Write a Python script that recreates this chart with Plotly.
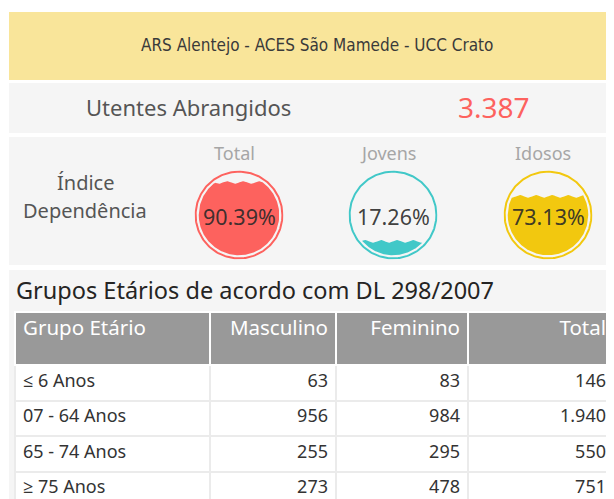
import numpy as np
import plotly.graph_objects as go

# a pagina tem 8px de margem no body, por isso a figura comeca em (8, 8)
OFF = 8
W, H = 614 - OFF, 499 - OFF

TITULO = "ARS Alentejo - ACES São Mamede - UCC Crato"
UTENTES = 3387

# indice de dependencia (%)
INDICES = ["Total", "Jovens", "Idosos"]
VALORES_IND = [90.39, 17.26, 73.13]
CORES_IND = ["#FD625E", "#41C8C8", "#F2C80F"]

# tabela de grupos etarios
GRUPOS = ["≤ 6 Anos", "07 - 64 Anos", "65 - 74 Anos", "≥ 75 Anos"]
MASCULINO = [63, 956, 255, 273]
FEMININO = [83, 984, 295, 478]
TOTAL = [146, 1940, 550, 751]
COLUNAS = ["Grupo Etário", "Masculino", "Feminino", "Total"]

FONTE = "Noto Sans, Open Sans, sans-serif"


def px(x):
    return (x - OFF) / W


def py(y):
    return 1 - (y - OFF) / H


def milhares(n):
    return f"{n:,}".replace(",", ".")


def poligono_agua(frac, raio=0.905, amp=0.03, onda=0.36):
    """Area de 'agua' dentro do circulo ate ao nivel frac (0..1), com ondinha."""
    xs = np.linspace(-raio, raio, 300)
    h = np.sqrt(np.clip(raio ** 2 - xs ** 2, 0, None))
    nivel = -raio + 2 * raio * frac
    topo = np.minimum(nivel + amp * np.sin(2 * np.pi * xs / onda), h)
    ok = topo >= -h
    xs, topo, fundo = xs[ok], topo[ok], -h[ok]
    return (np.concatenate([xs, xs[::-1], xs[:1]]),
            np.concatenate([topo, fundo[::-1], topo[:1]]))


fig = go.Figure()

# paineis de fundo
paineis = [(12, 80, "#F9E59A"), (83, 133, "#F5F5F5"), (137, 265, "#F5F5F5"), (270, 499, "#F5F5F5")]
for y0, y1, cor in paineis:
    fig.add_shape(type="rect", xref="paper", yref="paper", x0=px(9), x1=1,
                  y0=py(y1), y1=py(y0), fillcolor=cor, line_width=0, layer="below")

# gauges tipo "liquid fill"
centros = [239, 393, 548]
cy, r = 215, 44.5
theta = np.linspace(0, 2 * np.pi, 200)
for i, (nome, val, cor, cx) in enumerate(zip(INDICES, VALORES_IND, CORES_IND, centros), start=2):
    xa, ya = f"x{i}", f"y{i}"
    wx, wy = poligono_agua(val / 100)
    fig.add_trace(go.Scatter(x=wx, y=wy, mode="lines", fill="toself", fillcolor=cor,
                             line=dict(width=0, color=cor), xaxis=xa, yaxis=ya,
                             hoverinfo="skip", showlegend=False))
    fig.add_trace(go.Scatter(x=0.975 * np.cos(theta), y=0.975 * np.sin(theta), mode="lines",
                             line=dict(color=cor, width=2), xaxis=xa, yaxis=ya,
                             hoverinfo="skip", showlegend=False))
    eixo = dict(range=[-1, 1], visible=False, fixedrange=True)
    fig.update_layout({
        f"xaxis{i}": dict(eixo, domain=[px(cx - r), px(cx + r)], anchor=ya),
        f"yaxis{i}": dict(eixo, domain=[py(cy + r), py(cy - r)], anchor=xa),
    })
    fig.add_annotation(x=px(cx), y=py(cy + 1), xref="paper", yref="paper", text=f"{val:.2f}%",
                       showarrow=False, xanchor="center", yanchor="middle",
                       font=dict(size=21.5, color="rgba(40,40,40,0.9)", family=FONTE))
    fig.add_annotation(x=px(cx - 5), y=py(153), xref="paper", yref="paper", text=nome,
                       showarrow=False, xanchor="center", yanchor="middle",
                       font=dict(size=18, color="#A6A6A6", family=FONTE))

textos = [
    (317, 45, TITULO, 17, "#3A3A3A", "DejaVu Sans Condensed, Liberation Sans Narrow, sans-serif", "center"),
    (188, 107, "Utentes Abrangidos", 22, "#555555", FONTE, "center"),
    (494, 107, milhares(UTENTES), 28, "#FD625E", FONTE, "center"),
    (85, 182, "Índice", 20, "#555555", FONTE, "center"),
    (85, 210, "Dependência", 20, "#555555", FONTE, "center"),
    (14, 290, "Grupos Etários de acordo com DL 298/2007", 23.5, "#252423", FONTE, "left"),
]
for x, y, t, s, c, f, al in textos:
    fig.add_annotation(x=px(x), y=py(y), xref="paper", yref="paper", text=t, showarrow=False,
                       xanchor=al, yanchor="middle", font=dict(size=s, color=c, family=f))

fig.add_trace(go.Table(
    domain=dict(x=[px(15), 1], y=[0, py(312)]),
    columnwidth=[195, 126, 132, 146],
    header=dict(values=COLUNAS, fill_color="#999999", line=dict(color="white", width=2),
                align=["left", "right", "right", "right"], height=53,
                font=dict(color="white", size=20.5, family=FONTE)),
    cells=dict(values=[GRUPOS, MASCULINO, FEMININO, [milhares(v) for v in TOTAL]],
               fill_color="white", line=dict(color="#EBEBEB", width=2),
               align=["left", "right", "right", "right"], height=35.5,
               font=dict(color="#333333", size=18, family=FONTE)),
))

fig.update_layout(
    width=W, height=H, margin=dict(l=0, r=0, t=0, b=0),
    paper_bgcolor="white", plot_bgcolor="rgba(0,0,0,0)", showlegend=False,
    xaxis=dict(visible=False), yaxis=dict(visible=False),
)

fig.write_html("out.html")
